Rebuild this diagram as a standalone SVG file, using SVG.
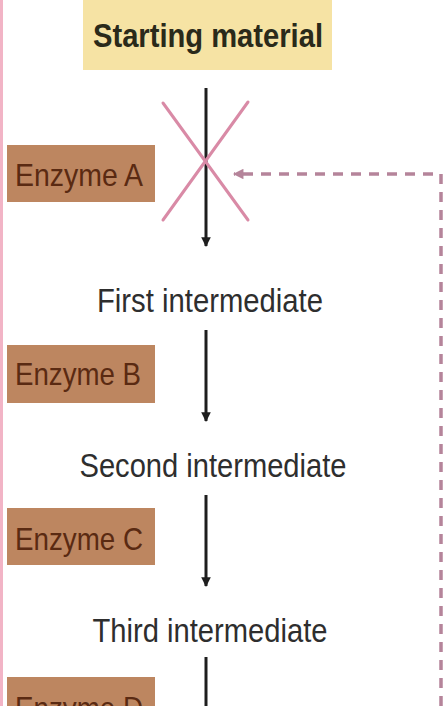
<svg xmlns="http://www.w3.org/2000/svg" width="444" height="706" viewBox="0 0 444 706">
<style>
.enz{fill:#bd8660;}
.enzt{font-family:"Liberation Sans",Arial,sans-serif;font-size:32px;fill:#5a2a12;}
.mid{font-family:"Liberation Sans",Arial,sans-serif;font-size:34px;fill:#2e2e2e;text-anchor:middle;}
.flow{stroke:#1e1e1e;stroke-width:3;fill:none;}
</style>
<defs>
<marker id="ah" viewBox="0 0 10 10" refX="9" refY="5" markerWidth="3.2" markerHeight="4" orient="auto" markerUnits="strokeWidth">
<path d="M0,0 L10,5 L0,10 z" fill="#1e1e1e"/>
</marker>
<marker id="ahp" viewBox="0 0 10 10" refX="9" refY="5" markerWidth="3.5" markerHeight="3" orient="auto" markerUnits="strokeWidth">
<path d="M0,0 L10,5 L0,10 z" fill="#b5849a"/>
</marker>
</defs>
<rect x="0" y="0" width="444" height="706" fill="#ffffff"/>
<line x1="1.5" y1="0" x2="1.5" y2="706" stroke="#f2b4c6" stroke-width="3"/>

<g id="starting-material">
<rect x="83" y="0" width="249" height="70" fill="#f6e3a4"/>
<text x="208" y="47" font-family="'Liberation Sans',Arial,sans-serif" font-size="34" font-weight="bold" fill="#2a2a1a" text-anchor="middle" textLength="230" lengthAdjust="spacingAndGlyphs">Starting material</text>
</g>

<g id="enzyme-a">
<rect class="enz" x="7" y="145" width="148" height="57"/>
<text class="enzt" x="15" y="186" textLength="128" lengthAdjust="spacingAndGlyphs">Enzyme A</text>
</g>
<g id="first-intermediate">
<text class="mid" x="210" y="312" textLength="226" lengthAdjust="spacingAndGlyphs">First intermediate</text>
</g>
<g id="enzyme-b">
<rect class="enz" x="7" y="345" width="148" height="58"/>
<text class="enzt" x="15" y="385" textLength="126" lengthAdjust="spacingAndGlyphs">Enzyme B</text>
</g>
<g id="second-intermediate">
<text class="mid" x="213" y="477" textLength="267" lengthAdjust="spacingAndGlyphs">Second intermediate</text>
</g>
<g id="enzyme-c">
<rect class="enz" x="7" y="508" width="148" height="57"/>
<text class="enzt" x="15" y="550" textLength="128" lengthAdjust="spacingAndGlyphs">Enzyme C</text>
</g>
<g id="third-intermediate">
<text class="mid" x="210" y="642" textLength="235" lengthAdjust="spacingAndGlyphs">Third intermediate</text>
</g>
<g id="enzyme-d">
<rect class="enz" x="7" y="677" width="148" height="40"/>
<text class="enzt" x="15" y="719" textLength="128" lengthAdjust="spacingAndGlyphs">Enzyme D</text>
</g>

<g id="connectors">
<line class="flow" x1="206" y1="88" x2="206" y2="246" marker-end="url(#ah)"/>
<line class="flow" x1="206" y1="330" x2="206" y2="421" marker-end="url(#ah)"/>
<line class="flow" x1="206" y1="495" x2="206" y2="586" marker-end="url(#ah)"/>
<line class="flow" x1="206" y1="657" x2="206" y2="706"/>
<g id="inhibition-x" stroke="#d98aa6" stroke-width="3" stroke-linecap="round">
<line x1="163" y1="103" x2="248" y2="220"/>
<line x1="248" y1="102" x2="163" y2="220"/>
</g>
<path d="M441,706 L441,174 L234,174" fill="none" stroke="#b5849a" stroke-width="3.5" stroke-dasharray="10,8" marker-end="url(#ahp)"/>
</g>
</svg>
